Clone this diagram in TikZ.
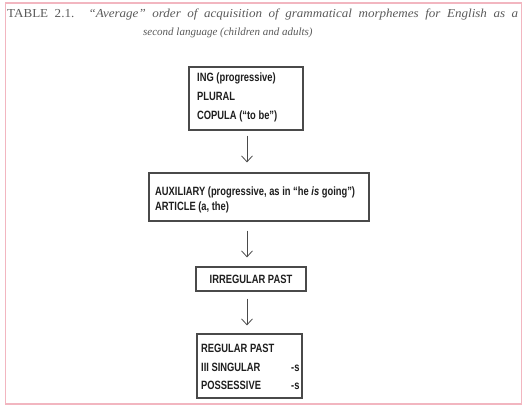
\documentclass[tikz,border=0pt]{standalone}
\usepackage{fontspec}
\setmainfont{Liberation Serif}
\newfontfamily\titlefont[FakeStretch=1.07,Ligatures=TeX]{Liberation Serif}
\newfontfamily\boxfont[FakeStretch=0.78,Ligatures=TeX]{Liberation Sans}
\usetikzlibrary{arrows.meta}
\definecolor{frame}{HTML}{F2B6C0}
\definecolor{titlecol}{HTML}{5A5A5A}
\definecolor{boxline}{HTML}{4A4A4A}
\definecolor{boxtext}{HTML}{1E1E1E}
\begin{document}
\begin{tikzpicture}[x=1pt,y=-1pt,
  morphbox/.style={draw=boxline,line width=1.2pt,rectangle,inner sep=0pt,
    font=\boxfont\bfseries\fontsize{12}{14}\selectfont,text=boxtext},
  boxline/.style={anchor=base west,inner sep=0pt,
    font=\boxfont\bfseries\fontsize{12}{14}\selectfont,text=boxtext},
  arr/.style={draw=boxline,line width=0.8pt,-{Straight Barb[length=6pt,width=11pt]}},
  titletext/.style={anchor=base west,inner sep=0pt,text=titlecol}]
\useasboundingbox (0,0) rectangle (522,406);
\clip (0,0) rectangle (522,406);
\fill[white] (0,0) rectangle (522,406);
\draw[frame,line width=1.6pt] (5.5,3) rectangle (521.5,404);
% title
\node[titletext,font=\titlefont\fontsize{12.2}{14}\selectfont] (t1) at (7,18) {\makebox[511pt][s]{TABLE 2.1. \textit{``Average'' order of acquisition of grammatical morphemes for English as a}}};
\node[titletext,font=\fontsize{11}{13}\selectfont] (t2) at (143,36) {\textit{second language (children and adults)}};
% boxes
\node[morphbox,minimum width=114pt,minimum height=63pt] (b1) at (246,98.5) {};
\node[boxline] (l11) at (197,82) {ING (progressive)};
\node[boxline] (l12) at (197,101) {PLURAL};
\node[boxline] (l13) at (197,120) {COPULA (``to be'')};
\node[morphbox,minimum width=220pt,minimum height=48pt] (b2) at (259,197) {};
\node[boxline] (l21) at (155,196) {AUXILIARY (progressive, as in ``he \textit{is} going'')};
\node[boxline] (l22) at (155,210.5) {ARTICLE (a, the)};
\node[morphbox,minimum width=110pt,minimum height=24pt] (b3) at (251,279) {IRREGULAR PAST};
\node[morphbox,minimum width=105pt,minimum height=64pt] (b4) at (249.5,366) {};
\node[boxline] (l41) at (201,352) {REGULAR PAST};
\node[boxline] (l42) at (201,371) {III SINGULAR};
\node[boxline] (l43) at (201,389) {POSSESSIVE};
\node[boxline] (s1) at (291,371) {-s};
\node[boxline] (s2) at (291,389) {-s};
% arrows
\coordinate (a1) at (247,0);
\draw[arr,shorten <=5pt,shorten >=10pt] (a1 |- b1.south) -- (a1 |- b2.north);
\draw[arr,shorten <=9pt,shorten >=9pt] (a1 |- b2.south) -- (a1 |- b3.north);
\draw[arr,shorten <=7pt,shorten >=8pt] (a1 |- b3.south) -- (a1 |- b4.north);
\end{tikzpicture}
\end{document}
